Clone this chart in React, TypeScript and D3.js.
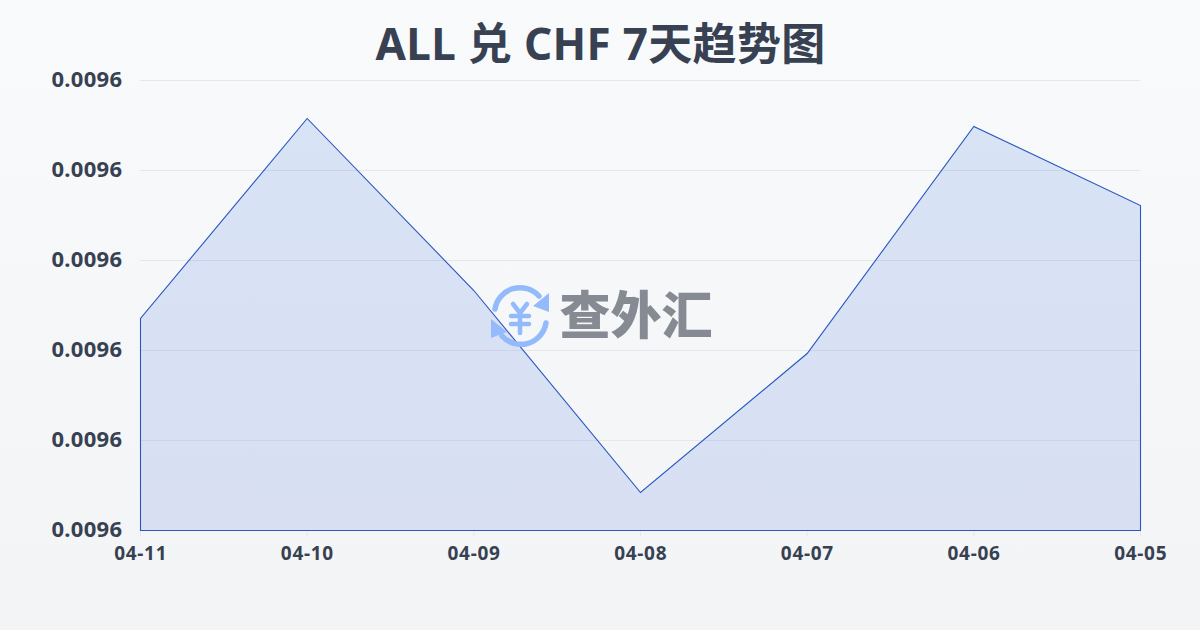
import React from "react";
import * as d3 from "d3";

const dates = ["04-11", "04-10", "04-09", "04-08", "04-07", "04-06", "04-05"];
const rates = [0.009604711, 0.009609156, 0.009605333, 0.009600844, 0.009603933, 0.009608978, 0.009607222];
const yTicks = [0.0096, 0.009602, 0.009604, 0.009606, 0.009608, 0.00961];
const titleText = "ALL 兑 CHF 7天趋势图";
const watermarkText = "查外汇";

const W = 1200, H = 630;
const FONT = "'Noto Sans', 'Noto Sans CJK SC', sans-serif";

export default function App() {
  const x = d3.scalePoint<string>().domain(dates).range([140.5, 1140.5]);
  const y = d3.scaleLinear().domain([0.0096, 0.00961]).range([530.5, 80.5]);
  const area = d3.area<number>()
    .x((_, i) => x(dates[i])!)
    .y0(y(0.0096))
    .y1((d) => y(d));
  const outline = `M${x(dates[0])},${y(0.0096)}L${rates.map((d, i) => `${x(dates[i])},${y(d)}`).join("L")}L${x(dates[6])},${y(0.0096)}Z`;
  return (
    <svg width={W} height={H} viewBox={`0 0 ${W} ${H}`} style={{ position: "fixed", left: 0, top: 0, display: "block" }} fontFamily={FONT}>
      <defs>
        <linearGradient id="bg" x1="0" y1="0" x2="0" y2="1">
          <stop offset="0" stopColor="#f8fafc" />
          <stop offset="1" stopColor="#f3f4f6" />
        </linearGradient>
        <linearGradient id="fill" x1="0" y1="0" x2="0" y2="1">
          <stop offset="0" stopColor="#1d5bd8" stopOpacity={0.14} />
          <stop offset="1" stopColor="#1d4ed8" stopOpacity={0.13} />
        </linearGradient>
      </defs>
      <rect width={W} height={H} fill="url(#bg)" />
      {yTicks.map((t) => (
        <line key={t} x1={140} x2={1140} y1={y(t)} y2={y(t)} stroke="#e5e7eb" strokeWidth={1} />
      ))}
      {dates.map((d) => (
        <line key={d} x1={x(d)} x2={x(d)} y1={530} y2={536} stroke="#e5e7eb" strokeWidth={1} />
      ))}
      <path d={area(rates)!} fill="url(#fill)" />
      <path d={outline} fill="none" stroke="#2a57c0" strokeWidth={1.1} />
      <text x={600.5} y={60} textAnchor="middle" fontSize={44} fontWeight={700} fill="#374151" letterSpacing={0.33}>
        {titleText}
      </text>
      {yTicks.map((t) => (
        <text key={t} x={122.3} y={y(t) + 6} textAnchor="end" fontSize={22} fontWeight={700} fill="#374151" letterSpacing={0.3}>
          {t.toFixed(4)}
        </text>
      ))}
      {dates.map((d) => (
        <text key={d} x={x(d)! + 0.2} y={559.5} textAnchor="middle" fontSize={19} fontWeight={700} fill="#374151" letterSpacing={0.7}>
          {d}
        </text>
      ))}
      <g>
        <g fill="none" stroke="#93bbfb" strokeWidth={5.5} strokeLinecap="round">
          <path d="M495,309 A25.5,25.5 0 0 1 539,296" />
          <path d="M546,323 A25.5,25.5 0 0 1 502,336" />
          <path d="M513,304 L520,313 L527,304 M511,316 H529 M511,324 H529 M520,313 V333" strokeWidth={4.5} />
        </g>
        <path d="M549,293 L549,312 L533,306 Z M491,338 L491,319 L507,332 Z" fill="#93bbfb" />
        <text x={636} y={334} textAnchor="middle" fontSize={51} fontWeight={900} fill="#858a93" style={{ fontFamily: "'Noto Sans CJK SC', sans-serif" }}>
          {watermarkText}
        </text>
      </g>
    </svg>
  );
}
